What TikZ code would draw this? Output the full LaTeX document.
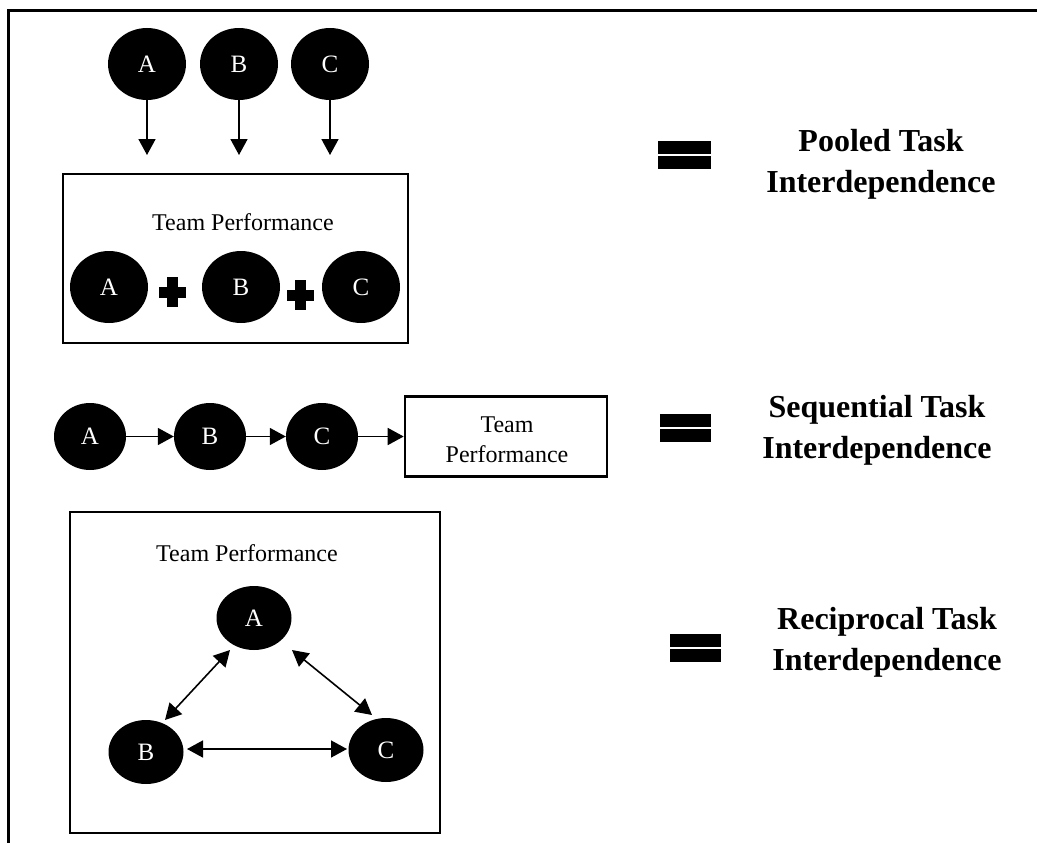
\documentclass[tikz,border=0pt]{standalone}
\usepackage{fontspec}
\setmainfont{Liberation Serif}
\usetikzlibrary{arrows.meta,shapes.geometric}
\begin{document}
\begin{tikzpicture}[x=1pt,y=-1pt,
  blob/.style={ellipse, fill=black, text=white, inner sep=0pt,
    minimum width=78pt, minimum height=72pt, font=\fontsize{25}{30}\selectfont},
  blobS/.style={blob, minimum width=72pt, minimum height=67pt},
  blobR/.style={blob, minimum width=75pt, minimum height=64pt},
  arr/.style={-{Triangle[length=16pt,width=17pt]}, line width=1.6pt},
  darr/.style={{Triangle[length=16pt,width=17pt]}-{Triangle[length=16pt,width=17pt]}, line width=1.6pt},
  boxed/.style={draw, line width=2.6pt, inner sep=0pt},
  lbl/.style={font=\fontsize{24}{30}\selectfont, align=center, inner sep=0pt},
  big/.style={font=\fontsize{32}{41}\selectfont\bfseries, align=center, inner sep=0pt},
  eqbar/.style={fill=black}
]
\useasboundingbox (0,0) rectangle (1037,843);
% outer frame (top and left edges visible)
\draw[line width=3pt] (8,843) -- (8,11) -- (1037,11);

% ---------- Pooled ----------
\node[blob] (pa) at (147,64) {A};
\node[blob] (pb) at (239,64) {B};
\node[blob] (pc) at (330,64) {C};
\coordinate (ta) at (147,155);
\coordinate (tb) at (239,155);
\coordinate (tc) at (330,155);
\draw[arr] (pa) -- (ta);
\draw[arr] (pb) -- (tb);
\draw[arr] (pc) -- (tc);
\node[boxed, minimum width=345pt, minimum height=169pt] (pbox) at (235.5,258.5) {};
\node[lbl] (ptitle) at (243,222) {Team Performance};
\node[blob] (qa) at (109,287) {A};
\node[blob] (qb) at (241,287) {B};
\node[blob] (qc) at (361,287) {C};
% plus signs
\fill (166.5,277) rectangle (177.5,307);
\fill (158.5,286.5) rectangle (185.5,297.5);
\fill (294.5,280) rectangle (305.5,310);
\fill (286.5,289.5) rectangle (313.5,300.5);

\fill[eqbar] (658,141) rectangle (711,154);
\fill[eqbar] (658,156) rectangle (711,169);
\node[big] (pooled) at (881,164) {Pooled Task\\Interdependence};

% ---------- Sequential ----------
\node[blobS] (sa) at (90,436.5) {A};
\node[blobS] (sb) at (210,436.5) {B};
\node[blobS] (sc) at (322,436.5) {C};
\node[boxed, minimum width=202pt, minimum height=80pt] (sbox) at (506,436.5) {};
\node[lbl] (stitle) at (507,440) {Team\\Performance};
\draw[arr] (sa.east) -- (sb.west);
\draw[arr] (sb.east) -- (sc.west);
\draw[arr] (sc.east) -- (sbox.west);

\fill[eqbar] (660,414) rectangle (711,427);
\fill[eqbar] (660,429) rectangle (711,442);
\node[big] (sequential) at (877,430) {Sequential Task\\Interdependence};

% ---------- Reciprocal ----------
\node[boxed, minimum width=370pt, minimum height=321pt] (rbox) at (255,672.5) {};
\node[lbl] (rtitle) at (247,553) {Team Performance};
\node[blobR] (ra) at (254,618) {A};
\node[blobR] (rb) at (146,752) {B};
\node[blobR] (rc) at (386,750) {C};
\draw[darr] ([shift={(-24,32)}]ra.center) -- ([shift={(19,-32)}]rb.center);
\draw[darr] ([shift={(38,32)}]ra.center) -- ([shift={(-14,-35)}]rc.center);
\draw[darr] ([shift={(41,-3)}]rb.center) -- ([shift={(-39,-1)}]rc.center);

\fill[eqbar] (670,634) rectangle (721,647);
\fill[eqbar] (670,649) rectangle (721,662);
\node[big] (reciprocal) at (887,642) {Reciprocal Task\\Interdependence};
\end{tikzpicture}
\end{document}
